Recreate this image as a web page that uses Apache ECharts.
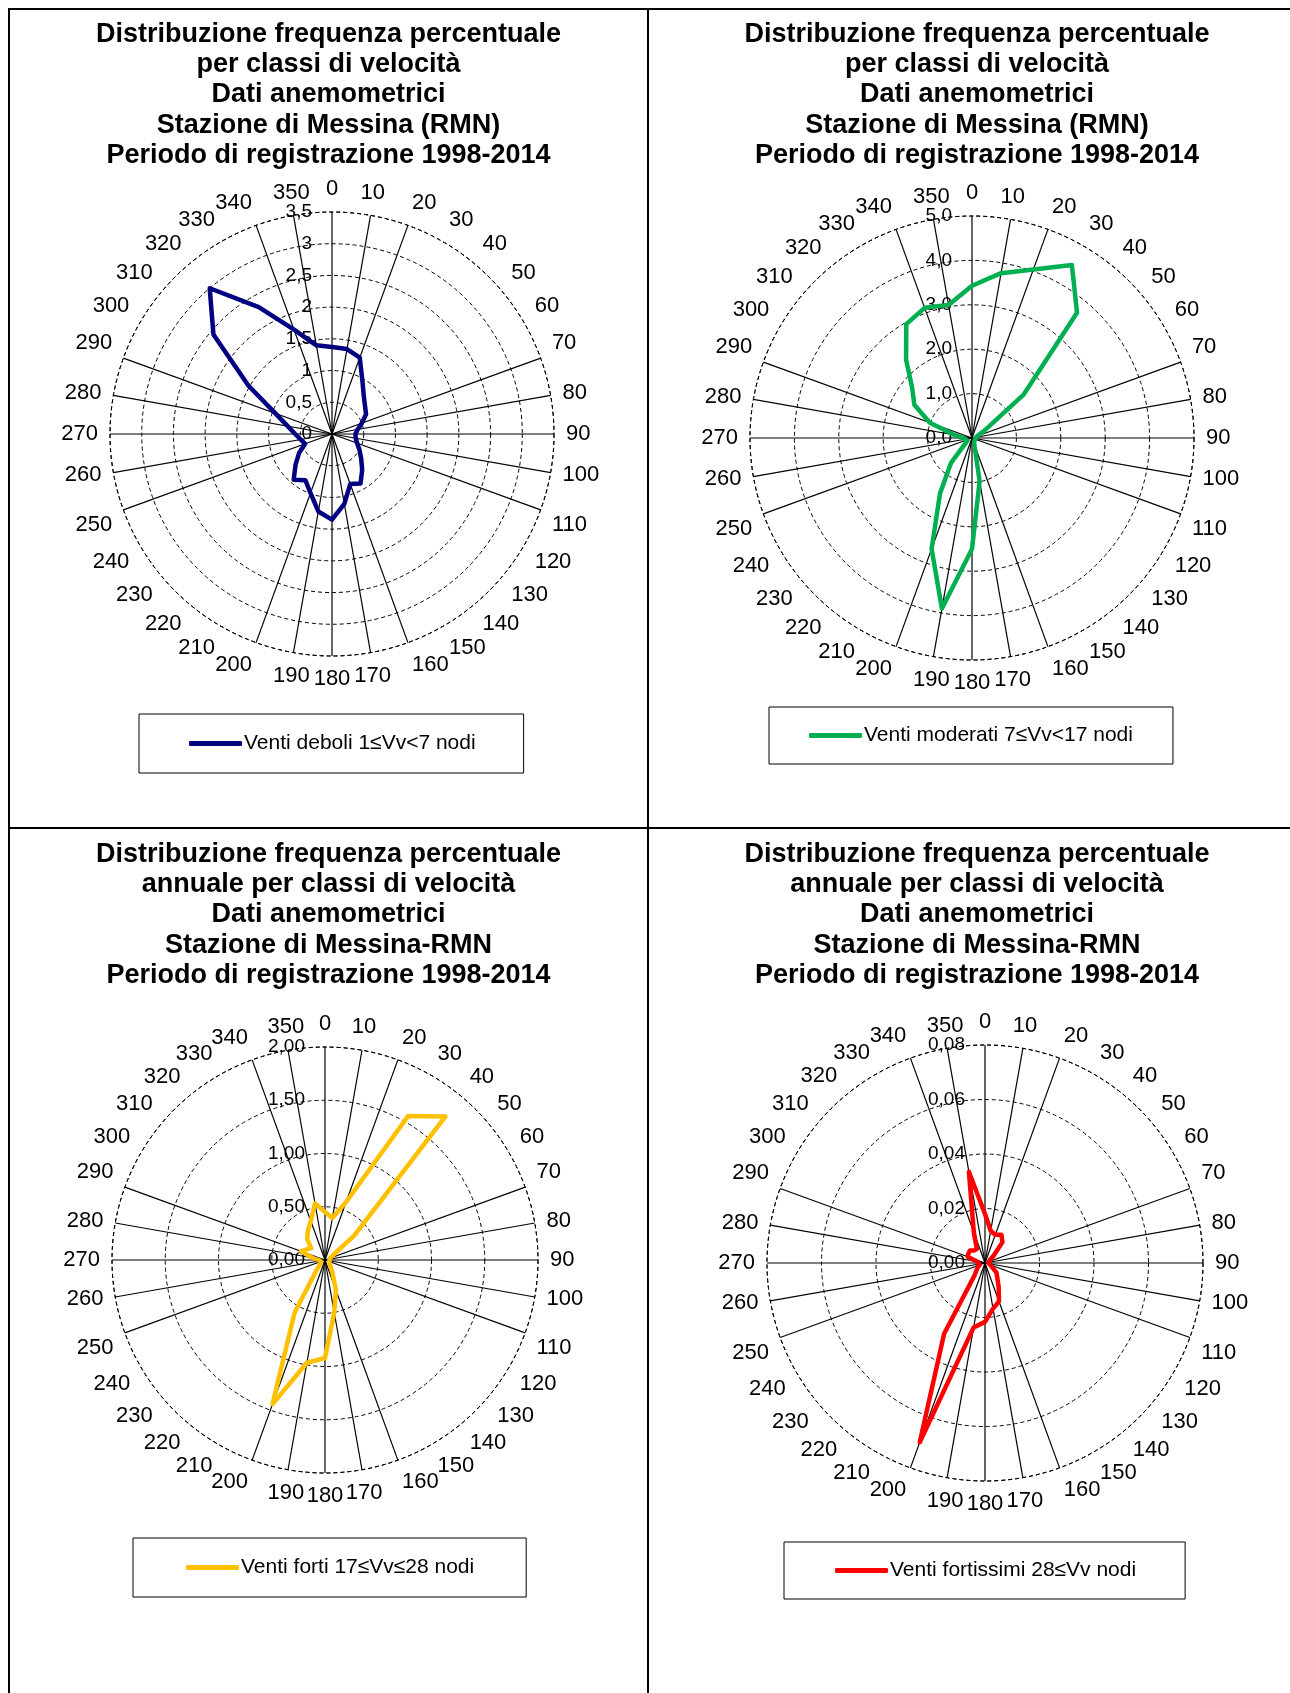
<!DOCTYPE html>
<html>
<head>
<meta charset="utf-8">
<title>Distribuzione frequenza percentuale - Messina</title>
<script src="https://cdn.jsdelivr.net/npm/echarts@6/dist/echarts.min.js"></script>
<style>
    html, body { margin: 0; padding: 0; background: #fff; }
    body { width: 1290px; height: 1693px; position: relative; overflow: hidden; }
    .cell { position: absolute; }
    .rule { position: absolute; background: #000; }
</style>
</head>
<body>
<div class="rule" style="left:8px;top:8px;width:1282px;height:2px"></div>
<div class="rule" style="left:8px;top:8px;width:2px;height:1685px"></div>
<div class="rule" style="left:647px;top:8px;width:2px;height:1685px"></div>
<div class="rule" style="left:8px;top:827px;width:1282px;height:2px"></div>

<div id="c1" class="cell" style="left:10px;top:10px;width:637px;height:817px"></div>
<div id="c2" class="cell" style="left:649px;top:10px;width:656px;height:817px"></div>
<div id="c3" class="cell" style="left:10px;top:829px;width:637px;height:864px"></div>
<div id="c4" class="cell" style="left:649px;top:829px;width:656px;height:864px"></div>

<script>
// direzioni di provenienza (gradi)
const directions = [0, 10, 20, 30, 40, 50, 60, 70, 80, 90, 100, 110, 120, 130, 140, 150, 160, 170,
    180, 190, 200, 210, 220, 230, 240, 250, 260, 270, 280, 290, 300, 310, 320, 330, 340, 350]

// frequenze percentuali per classe di velocità
const ventiDeboli = [1.37, 1.36, 1.28, 0.96, 0.78, 0.68, 0.62, 0.50, 0.41, 0.37, 0.38, 0.42,
    0.50, 0.60, 0.74, 0.90, 0.84, 1.12, 1.35, 1.24, 0.99, 0.84, 0.94, 0.75,
    0.60, 0.45, 0.50, 0.58, 0.71, 0.95, 1.52, 2.44, 3.00, 2.31, 1.75, 1.42]
const ventiModerati = [3.43, 3.77, 4.04, 4.50, 3.68, 1.51, 0.30, 0.12, 0.08, 0.07, 0.07, 0.07,
    0.07, 0.07, 0.08, 0.10, 0.15, 0.99, 2.50, 3.90, 2.66, 1.44, 0.74, 0.20,
    0.12, 0.10, 0.12, 0.20, 0.40, 1.01, 1.50, 1.76, 2.31, 2.96, 3.12, 3.04]
const ventiForti = [0.45, 0.40, 0.58, 1.56, 1.76, 0.36, 0.08, 0.05, 0.04, 0.04, 0.04, 0.04,
    0.05, 0.06, 0.08, 0.14, 0.30, 0.50, 0.92, 0.98, 1.44, 0.57, 0.12, 0.06,
    0.05, 0.04, 0.04, 0.06, 0.12, 0.24, 0.20, 0.17, 0.26, 0.32, 0.39, 0.54]
const ventiFortissimi = [0.018, 0.012, 0.011, 0.012, 0.010, 0.004, 0.002, 0.0015, 0.0012, 0.0012, 0.0012, 0.0015,
    0.003, 0.0055, 0.007, 0.010, 0.015, 0.017, 0.0216, 0.024, 0.070, 0.030, 0.006, 0.004,
    0.003, 0.002, 0.002, 0.002, 0.003, 0.0068, 0.007, 0.0072, 0.006, 0.006, 0.012, 0.034]

// etichette dei cerchi (asse radiale)
const ticksDeboli = ['0', '0,5', '1', '1,5', '2', '2,5', '3', '3,5']
const ticksModerati = ['0,0', '1,0', '2,0', '3,0', '4,0', '5,0']
const ticksForti = ['0,00', '0,50', '1,00', '1,50', '2,00']
const ticksFortissimi = ['0,00', '0,02', '0,04', '0,06', '0,08']

const titoloA = ['Distribuzione frequenza percentuale', 'per classi di velocità', 'Dati anemometrici',
    'Stazione di Messina (RMN)', 'Periodo di registrazione 1998-2014']
const titoloB = ['Distribuzione frequenza percentuale', 'annuale per classi di velocità', 'Dati anemometrici',
    'Stazione di Messina-RMN', 'Periodo di registrazione 1998-2014']

const FONT = '"Liberation Sans", Arial, sans-serif'

// raggi visibili solo in 4 gruppi (come nel grafico originale)
const spokeColors = directions.map(function (d) {
    const near = [0, 90, 180, 270, 360].some(function (c) { return Math.abs(d - c) <= 20 })
    return near ? '#000' : 'rgba(0,0,0,0)'
})

function makeRose(id, cfg) {
    const chart = echarts.init(document.getElementById(id))
    const data = directions.map(function (d, i) { return [cfg.values[i], d] })
    // chiude il poligono
    data.push([cfg.values[0], 360])

    const option = {
        animation: false,
        textStyle: { fontFamily: FONT },
        title: {
            text: cfg.title.join('\n'),
            left: 'center',
            top: cfg.titleTop,
            padding: 0,
            textStyle: {
                fontFamily: FONT,
                fontSize: 27,
                fontWeight: 'bold',
                lineHeight: 30.3,
                color: '#000'
            }
        },
        legend: {
            data: [cfg.name],
            left: cfg.legend[0],
            top: cfg.legend[1],
            orient: 'horizontal',
            icon: 'roundRect',
            itemWidth: 53,
            itemHeight: 5,
            borderColor: '#000',
            borderWidth: 1,
            borderRadius: 0,
            padding: cfg.legendPad,
            textStyle: { fontFamily: FONT, fontSize: 21, color: '#000', padding: [0, 0, 0, -3] }
        },
        polar: {
            center: cfg.center,
            radius: cfg.radius
        },
        angleAxis: {
            type: 'value',
            min: 0,
            max: 360,
            interval: 10,
            startAngle: 90,
            clockwise: true,
            axisLine: { show: true, lineStyle: { color: '#000', width: 1, type: [4, 3] } },
            axisTick: { show: false },
            axisLabel: {
                margin: 12,
                fontFamily: FONT,
                fontSize: 22,
                color: '#000',
                formatter: function (v) { return v === 360 ? '' : String(v) }
            },
            splitLine: { show: true, lineStyle: { color: spokeColors, width: 1.2 } }
        },
        radiusAxis: {
            type: 'value',
            min: 0,
            max: cfg.max,
            interval: cfg.interval,
            axisLine: { show: false },
            axisTick: { show: false },
            axisLabel: {
                margin: 20,
                fontFamily: FONT,
                fontSize: 19,
                color: '#000',
                formatter: function (v) { return cfg.ticks[Math.round(v / cfg.interval)] }
            },
            splitLine: { show: true, lineStyle: { color: '#000', width: 1, type: [4, 3] } }
        },
        series: [
            {
                name: cfg.name,
                type: 'line',
                coordinateSystem: 'polar',
                data: data,
                symbol: 'none',
                smooth: false,
                lineStyle: { color: cfg.color, width: 4.5, join: 'round' },
                itemStyle: { color: cfg.color },
                z: 5
            }
        ]
    }
    chart.setOption(option)
    return chart
}

makeRose('c1', {
    title: titoloA, titleTop: 9, name: 'Venti deboli 1≤Vv<7 nodi', color: '#000080',
    values: ventiDeboli, max: 3.5, interval: 0.5, ticks: ticksDeboli,
    center: [322, 424], radius: 222, legend: [129, 704], legendPad: [19, 48, 19, 50]
})
makeRose('c2', {
    title: titoloA, titleTop: 9, name: 'Venti moderati 7≤Vv<17 nodi', color: '#00B050',
    values: ventiModerati, max: 5, interval: 1, ticks: ticksModerati,
    center: [323, 428], radius: 222, legend: [120, 697], legendPad: [18, 40, 18, 40]
})
makeRose('c3', {
    title: titoloB, titleTop: 10, name: 'Venti forti 17≤Vv≤28 nodi', color: '#FFC000',
    values: ventiForti, max: 2, interval: 0.5, ticks: ticksForti,
    center: [315, 431], radius: 213, legend: [123, 709], legendPad: [19, 52, 19, 53]
})
makeRose('c4', {
    title: titoloB, titleTop: 10, name: 'Venti fortissimi 28≤Vv nodi', color: '#FF0000',
    values: ventiFortissimi, max: 0.08, interval: 0.02, ticks: ticksFortissimi,
    center: [336, 434], radius: 218, legend: [135, 713], legendPad: [18, 49, 18, 51]
})
</script>
</body>
</html>
